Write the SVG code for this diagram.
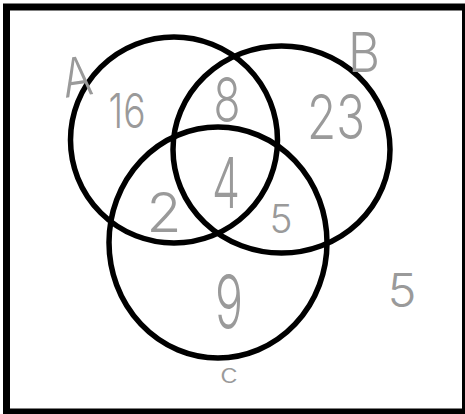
<svg xmlns="http://www.w3.org/2000/svg" width="465" height="414" viewBox="0 0 465 414">
<style>
.set{fill:none;stroke:#000;stroke-width:5.5}
.t{font-family:Inter,"DejaVu Sans","Liberation Sans",sans-serif;font-weight:300;fill:#9a9a9a;text-anchor:middle}
</style>
<rect width="465" height="414" fill="#fff"/>
<rect id="universe" x="6.5" y="7" width="459" height="405" fill="none" stroke="#000" stroke-width="7"/>
<g id="setA">
<ellipse class="set" cx="174" cy="140" rx="103.5" ry="103"/>
<text class="t" x="77" y="96" font-size="54" textLength="30" lengthAdjust="spacingAndGlyphs" transform="rotate(-8 77 78)">A</text>
</g>
<g id="setB">
<ellipse class="set" cx="281.5" cy="149.5" rx="108.5" ry="103.5"/>
<text class="t" x="364" y="72" font-size="55" textLength="32" lengthAdjust="spacingAndGlyphs">B</text>
</g>
<g id="setC">
<ellipse class="set" cx="218" cy="242.5" rx="109" ry="115.5"/>
<text class="t" x="229" y="383" font-size="26" textLength="18" lengthAdjust="spacingAndGlyphs">c</text>
</g>
<g id="regions">
<text class="t" x="127" y="128" font-size="48" textLength="37" lengthAdjust="spacingAndGlyphs">16</text>
<text class="t" x="227" y="122" font-size="62" textLength="27" lengthAdjust="spacingAndGlyphs">8</text>
<text class="t" x="336" y="139" font-size="62" textLength="58" lengthAdjust="spacingAndGlyphs">23</text>
<text class="t" x="226" y="208" font-size="70" textLength="28" lengthAdjust="spacingAndGlyphs">4</text>
<text class="t" x="164" y="232" font-size="55" textLength="35" lengthAdjust="spacingAndGlyphs">2</text>
<text class="t" x="281" y="233" font-size="39" textLength="23" lengthAdjust="spacingAndGlyphs">5</text>
<text class="t" x="229" y="328" font-size="73" textLength="28" lengthAdjust="spacingAndGlyphs">9</text>
<text class="t" x="402" y="307" font-size="47" textLength="29" lengthAdjust="spacingAndGlyphs">5</text>
</g>
</svg>
